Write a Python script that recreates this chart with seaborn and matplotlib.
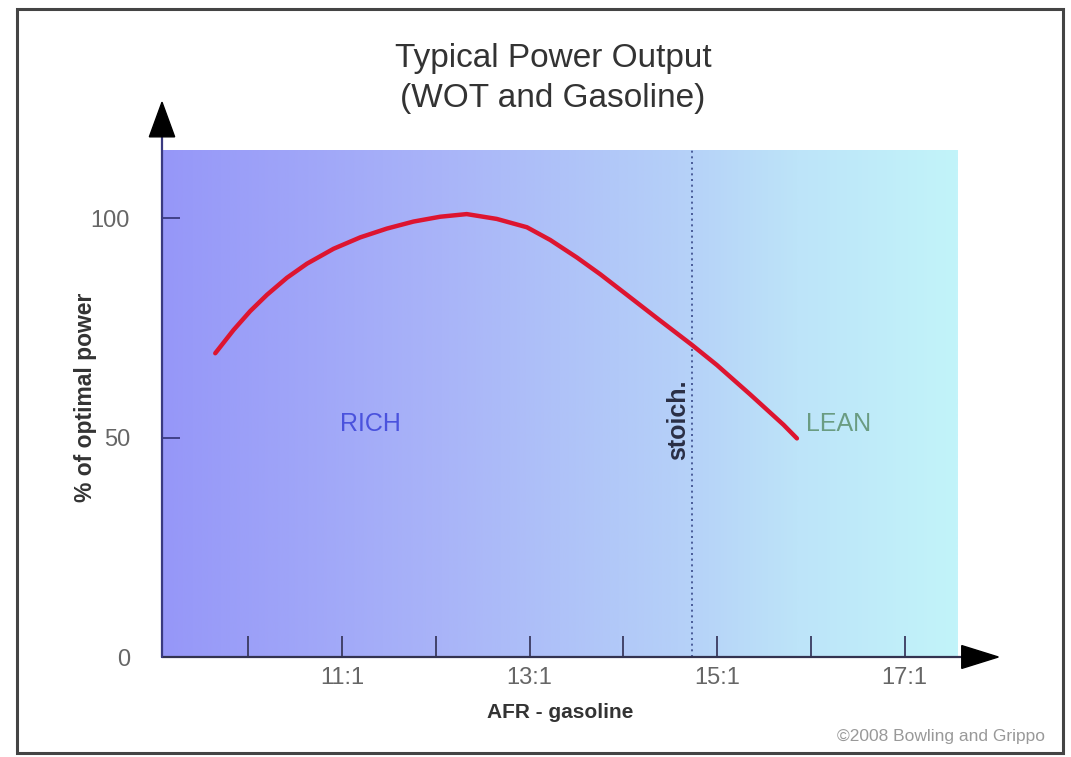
import numpy as np
import pandas as pd
import matplotlib
matplotlib.use("Agg")
import matplotlib.pyplot as plt
from matplotlib.colors import LinearSegmentedColormap
from matplotlib.patches import Rectangle, Polygon
import seaborn as sns

# ---- data ----
afr = [9.648, 9.843, 10.021, 10.199, 10.413, 10.626, 10.910, 11.195, 11.479, 11.763, 12.048,
       12.33, 12.65, 12.972, 13.221, 13.506, 13.754, 14.039, 14.359, 14.732, 14.999, 15.354,
       15.709, 15.852]
power = [69.2, 74.5, 78.8, 82.5, 86.4, 89.6, 93.0, 95.6, 97.6, 99.2, 100.3,
         100.9, 99.8, 97.9, 95.0, 91.0, 87.2, 82.5, 77.2, 71.1, 66.5, 59.8,
         52.9, 49.8]
xticks = [10, 11, 12, 13, 14, 15, 16, 17]
xticklabels = ["", "11:1", "", "13:1", "", "15:1", "", "17:1"]
yticks = [0, 50, 100]
yticklabels = ["0", "50", "100"]
stoich = 14.73
xlim = (9.08, 17.57)
ylim = (0, 115.5)

sns.set_style("white")
plt.rcParams['font.family'] = ['Liberation Sans', 'DejaVu Sans']

W, H = 1071, 757
fig = plt.figure(figsize=(W / 100, H / 100), dpi=100)
fig.patch.set_facecolor("white")
ax = fig.add_axes([162 / W, (H - 657) / H, (958 - 162) / W, (657 - 150) / H])

# gradient background
cmap = LinearSegmentedColormap.from_list(
    "bg", [(0.0, "#9697f8"), (0.35, "#a9b4f8"), (0.65, "#b5d0f8"), (0.8, "#bde4f9"), (1.0, "#c2f4fa")])
grad = np.linspace(0, 1, 512).reshape(1, -1)
ax.imshow(grad, cmap=cmap, aspect="auto", extent=[xlim[0], xlim[1], ylim[0], ylim[1]], zorder=0)

df = pd.DataFrame({"afr": afr, "power": power})
sns.lineplot(data=df, x="afr", y="power", ax=ax, color="#dd1530", linewidth=3.2, zorder=3,
             solid_joinstyle="round", solid_capstyle="round")

ax.axvline(stoich, color="#3a4a8a", linestyle=(0, (1.2, 2.2)), linewidth=1.2, zorder=2)

ax.set_xlim(*xlim)
ax.set_ylim(*ylim)
ax.set_xticks(xticks)
ax.set_xticklabels(xticklabels)
ax.set_yticks(yticks)
ax.set_yticklabels(yticklabels)
ax.tick_params(axis="x", bottom=True, direction="in", length=15, width=1.3, color="#3a3a60",
               labelcolor="#666666", labelsize=17, pad=7)
ax.tick_params(axis="y", left=True, direction="in", length=13, width=1.3, color="#3a3a80",
               labelcolor="#666666", labelsize=17, pad=23)
for s in ["top", "right", "left", "bottom"]:
    ax.spines[s].set_visible(False)

# axis lines with arrows
ax.plot([xlim[0], 17.62], [0, 0], color="#333350", lw=1.6, clip_on=False, zorder=4)
ax.plot([xlim[0], xlim[0]], [0, 118.6], color="#3a3a80", lw=1.6, clip_on=False, zorder=4)
ax.add_patch(Polygon([[17.61, -2.6], [17.61, 2.6], [18.0, 0]], closed=True,
                     facecolor="black", edgecolor="black", clip_on=False, zorder=5))
ax.add_patch(Polygon([[xlim[0] - 0.135, 118.5], [xlim[0] + 0.135, 118.5], [xlim[0], 126.4]], closed=True,
                     facecolor="black", edgecolor="black", clip_on=False, zorder=5))

ax.set_xlabel("AFR - gasoline", fontsize=15, fontweight="bold", color="#333333", labelpad=10)
ax.set_ylabel("% of optimal power", fontsize=16.5, fontweight="bold", color="#333333")
ax.yaxis.set_label_coords(-0.0817, 0.513)

ax.text(11.3, 53, "RICH", color="#4a52dd", fontsize=18, ha="center", va="center", zorder=4)
ax.text(16.3, 53, "LEAN", color="#6a9c82", fontsize=18, ha="center", va="center", zorder=4)
ax.text(stoich - 0.15, 54, "stoich.", rotation=90, color="#2a2f45", fontsize=18, fontweight="bold",
        ha="center", va="center", zorder=4)

fig.text(553 / W, 1 - 58 / H, "Typical Power Output", ha="center", va="center", fontsize=24, color="#333333")
fig.text(553 / W, 1 - 99 / H, "(WOT and Gasoline)", ha="center", va="center", fontsize=24, color="#333333")
fig.text(1045 / W, 1 - 736 / H, "©2008 Bowling and Grippo", ha="right", va="center", fontsize=12.5, color="#999999")

fig.patches.append(Rectangle((17 / W, 1 - 753 / H), (1063 - 17) / W, (753 - 9) / H, transform=fig.transFigure,
                             fill=False, edgecolor="#444444", linewidth=2.2))

fig.savefig("out.png", dpi=100)
